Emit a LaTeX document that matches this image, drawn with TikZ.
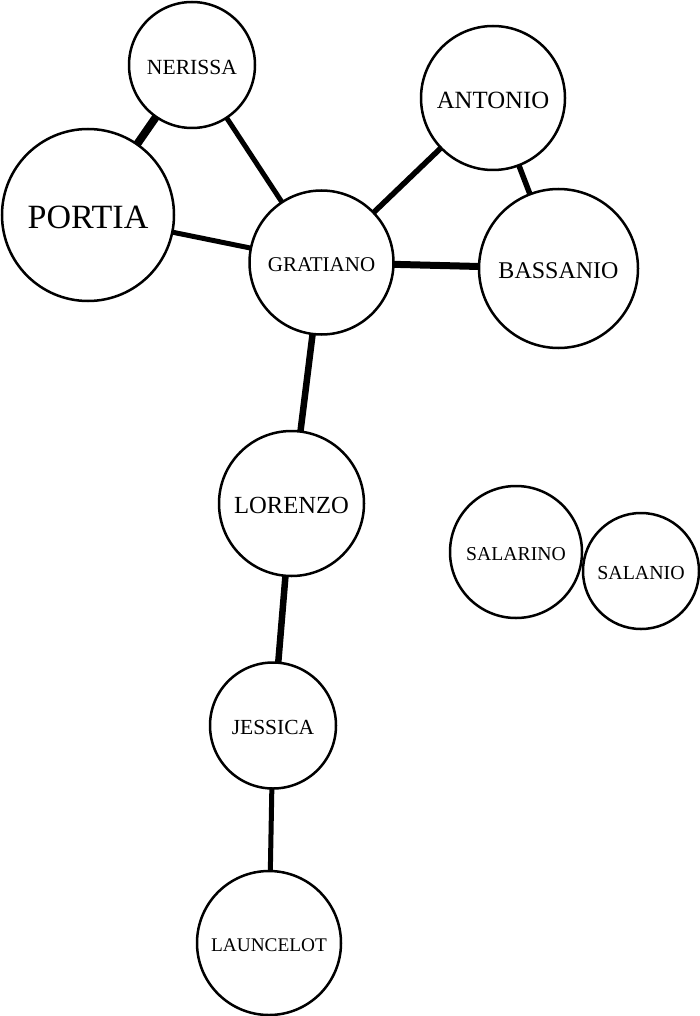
\documentclass[tikz,border=0pt]{standalone}
\usepackage{fontspec}
\setmainfont{Liberation Serif}
\newcommand{\fs}[1]{\fontsize{#1}{#1}\selectfont}
\begin{document}
\begin{tikzpicture}[x=1pt,y=-1pt,
  person/.style={circle,draw=black,line width=2.5pt,fill=white,inner sep=0pt,outer sep=0pt},
  nametext/.style={inner sep=0pt,yshift=-2pt},
  tie/.style={line width=#1,draw=black}]
\useasboundingbox (0,0) rectangle (700,1016);
\node[person,minimum size=126pt,label={[nametext]center:\fs{21.6}NERISSA}] (ner) at (192,65) {};
\node[person,minimum size=172pt,label={[nametext]center:\fs{34}PORTIA}] (por) at (88,215) {};
\node[person,minimum size=144pt,label={[nametext]center:\fs{24.8}ANTONIO}] (ant) at (493,98) {};
\node[person,minimum size=144pt,label={[nametext]center:\fs{21}GRATIANO}] (gra) at (321.5,262.5) {};
\node[person,minimum size=159pt,label={[nametext]center:\fs{24}BASSANIO}] (bas) at (558.5,268.5) {};
\node[person,minimum size=145pt,label={[nametext]center:\fs{24.6}LORENZO}] (lor) at (291.5,503.5) {};
\node[person,minimum size=132pt,label={[nametext]center:\fs{19.7}SALARINO}] (sar) at (516,552) {};
\node[person,minimum size=116pt,label={[nametext]center:\fs{19.9}SALANIO}] (san) at (641,571) {};
\node[person,minimum size=126pt,label={[nametext]center:\fs{21.5}JESSICA}] (jes) at (273,725.5) {};
\node[person,minimum size=144pt,label={[nametext]center:\fs{19.3}LAUNCELOT}] (lau) at (269,943) {};
\draw[tie=8pt] (por) -- (ner);
\draw[tie=5pt] (ner) -- (gra);
\draw[tie=5pt] (por) -- (gra);
\draw[tie=5.5pt] (gra) -- (ant);
\draw[tie=5.5pt] (ant) -- (bas);
\draw[tie=7pt] (gra) -- (bas);
\draw[tie=6.5pt] (gra) -- (lor);
\draw[tie=6.5pt] (lor) -- (jes);
\draw[tie=5pt] (jes) -- (lau);
\end{tikzpicture}
\end{document}
